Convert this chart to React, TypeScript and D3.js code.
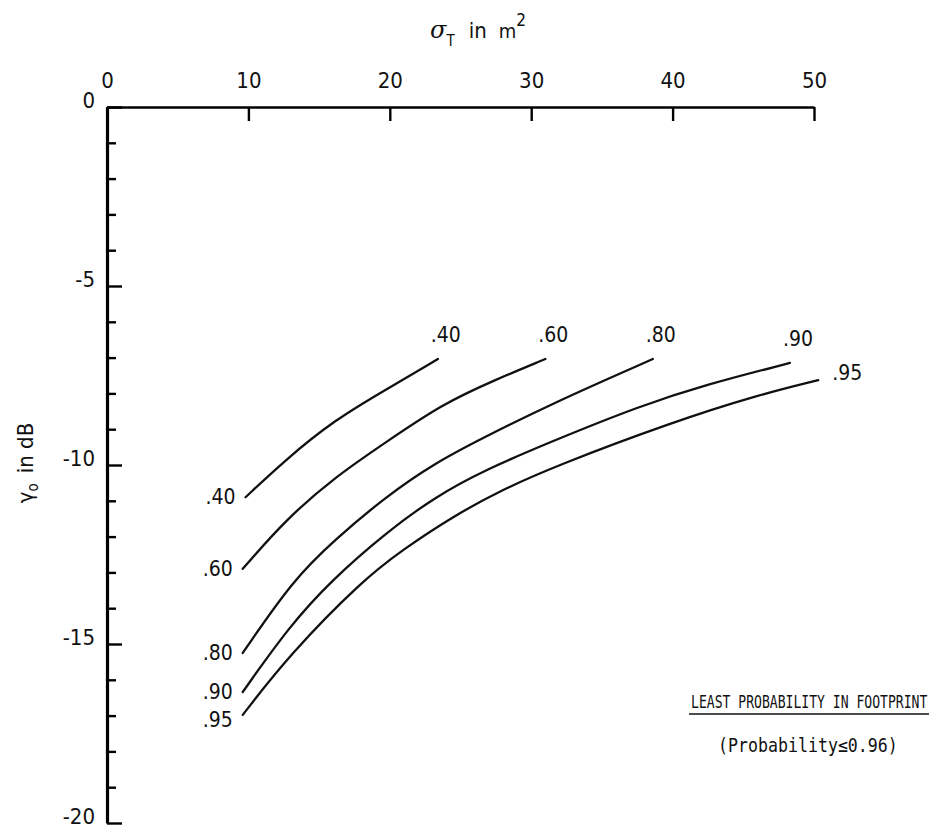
import React, { useEffect, useRef } from "react";
import * as d3 from "d3";

// probability levels, one curve each
const levels = [".40", ".60", ".80", ".90", ".95"];

// [sigma_T (m^2), gamma_o (dB)]
const curve40 = [[9.8, -10.9], [12.6, -9.86], [16.1, -8.74], [19.7, -7.9], [23.4, -7.04]];
const curve60 = [[9.6, -12.9], [12.6, -11.54], [16.1, -10.34], [19.7, -9.37], [23.7, -8.3], [27.4, -7.63], [31.0, -7.04]];
const curve80 = [[9.6, -15.25], [13.15, -13.21], [16.1, -12.09], [19.7, -10.89], [23.2, -9.94], [26.7, -9.22], [31.7, -8.24], [38.6, -7.04]];
const curve90 = [[9.6, -16.34], [12.9, -14.5], [15.9, -13.21], [19.7, -11.9], [23.2, -10.89], [26.7, -10.14], [31.7, -9.3], [37.7, -8.35], [42.4, -7.75], [48.3, -7.15]];
const curve95 = [[9.6, -16.98], [12.9, -15.3], [18.1, -13.21], [20.9, -12.37], [24.4, -11.45], [27.9, -10.7], [31.7, -10.03], [40.0, -8.8], [46.0, -8.05], [50.3, -7.63]];
const curves = [curve40, curve60, curve80, curve90, curve95];

const xTicks = [0, 10, 20, 30, 40, 50];
const yMajorTicks = [0, -5, -10, -15, -20];
const yMinorTicks = [-1, -2, -3, -4, -6, -7, -8, -9, -11, -12, -13, -14, -16, -17, -18, -19];

const FONT = "'DejaVu Sans Condensed', 'Liberation Sans', sans-serif";
const MONO = "'DejaVu Sans Mono', 'Liberation Mono', monospace";

const Axes = ({ x, y }) => {
  const xRef = useRef(null);
  const yRef = useRef(null);
  const yMinorRef = useRef(null);

  useEffect(() => {
    const gx = d3.select(xRef.current);
    gx.call(
      d3.axisTop(x).tickValues(xTicks).tickSize(-14).tickSizeOuter(0).tickPadding(19).tickFormat(d3.format("d"))
    );
    gx.select(".domain").attr("stroke-width", 2.6);
    gx.selectAll(".tick line").attr("stroke-width", 2.4);
    gx.selectAll(".tick text").attr("font-size", 22).attr("font-family", FONT).attr("fill", "#111");

    const gy = d3.select(yRef.current);
    gy.call(
      d3.axisLeft(y).tickValues(yMajorTicks).tickSize(-15).tickSizeOuter(0).tickPadding(12)
        .tickFormat((d) => (d === 0 ? "0" : "-" + Math.abs(d)))
    );
    gy.select(".domain").attr("stroke-width", 3.2);
    gy.selectAll(".tick line").attr("stroke-width", 2.4);
    gy.selectAll(".tick text").attr("font-size", 22).attr("font-family", FONT).attr("fill", "#111").attr("dy", "0.02em");

    const gm = d3.select(yMinorRef.current);
    gm.call(d3.axisLeft(y).tickValues(yMinorTicks).tickSize(-9).tickSizeOuter(0).tickFormat(() => ""));
    gm.select(".domain").remove();
    gm.selectAll(".tick line").attr("stroke-width", 2.4);
  }, [x, y]);

  return (
    <g>
      <g ref={yMinorRef} transform={`translate(${x(0)},0)`} />
      <g ref={yRef} transform={`translate(${x(0)},0)`} />
      <g ref={xRef} transform={`translate(0,${y(0)})`} />
    </g>
  );
};

export default function App() {
  const width = 934;
  const height = 829;

  const x = d3.scaleLinear().domain([0, 50]).range([107, 814]);
  const y = d3.scaleLinear().domain([0, -20]).range([107, 823]);

  const line = d3
    .line()
    .x((d) => x(d[0]))
    .y((d) => y(d[1]))
    .curve(d3.curveBasis);

  return (
    <svg
      width={width}
      height={height}
      style={{ position: "absolute", left: 0, top: 0, background: "#fff" }}
    >
      <rect width={width} height={height} fill="#fff" />

      {curves.map((c, i) => (
        <path key={i} d={line(c)} fill="none" stroke="#111" strokeWidth={2.3} strokeLinecap="round" />
      ))}

      {/* labels at the left ends of the curves */}
      {curves.map((c, i) => (
        <text
          key={"l" + i}
          x={x(c[0][0]) - 10}
          y={y(c[0][1]) + (i === 4 ? 12 : 7)}
          textAnchor="end"
          fontFamily={FONT}
          fontSize={21}
          fill="#111"
        >
          {levels[i]}
        </text>
      ))}

      {/* labels at the right ends of the curves */}
      {curves.map((c, i) => {
        const last = c[c.length - 1];
        const right = i === 4;
        return (
          <text
            key={"r" + i}
            x={x(last[0]) + (right ? 14 : 8)}
            y={y(last[1]) + (right ? 0 : -17)}
            textAnchor={right ? "start" : "middle"}
            fontFamily={FONT}
            fontSize={21}
            fill="#111"
          >
            {levels[i]}
          </text>
        );
      })}

      <Axes x={x} y={y} />

      {/* top title */}
      <text x={430} y={38} fontFamily={FONT} fontSize={22} fill="#111">
        <tspan fontFamily="'DejaVu Serif', serif" fontStyle="italic" fontSize={24}>σ</tspan>
        <tspan fontSize={15} dy={8}>T</tspan>
        <tspan dy={-8} dx={14}>in</tspan>
        <tspan dx={12} fontSize={20}>m</tspan>
        <tspan fontSize={17} dy={-12}>2</tspan>
      </text>

      {/* left title */}
      <text
        transform="translate(33,463) rotate(-90)"
        textAnchor="middle"
        fontFamily={FONT}
        fontSize={22}
        fill="#111"
      >
        <tspan>γ</tspan>
        <tspan fontSize={15} dy={5}>o</tspan>
        <tspan dy={-5} dx={10}>in dB</tspan>
      </text>

      {/* annotation */}
      <text
        transform="translate(691,708) scale(1,1.35)"
        fontFamily={MONO}
        fontSize={13.1}
        fill="#111"
      >
        LEAST PROBABILITY IN FOOTPRINT
      </text>
      <line x1={689} x2={929} y1={714} y2={714} stroke="#111" strokeWidth={1.4} />
      <text
        transform="translate(718,752) scale(1,1.2)"
        fontFamily={MONO}
        fontSize={16.6}
        fill="#111"
      >
        (Probability≤0.96)
      </text>
    </svg>
  );
}
